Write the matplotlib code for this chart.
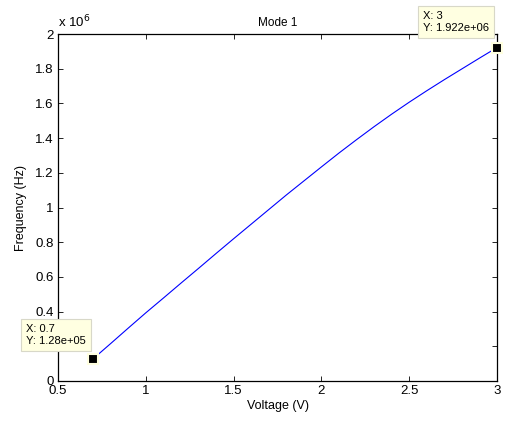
import numpy as np
import matplotlib.pyplot as plt
from matplotlib.ticker import FuncFormatter

plt.rcParams['font.family'] = ['Liberation Sans', 'DejaVu Sans']

# data (frequency in units of 1e6 Hz)
voltage = [0.7, 0.8, 0.9, 1.0, 1.1, 1.2, 1.3, 1.4, 1.5, 1.6, 1.7, 1.8,
           1.9, 2.0, 2.1, 2.2, 2.3, 2.4, 2.5, 2.6, 2.7, 2.8, 2.9, 3.0]
freq_e6 = [0.128, 0.216, 0.305, 0.393, 0.478, 0.564, 0.649, 0.735, 0.820,
           0.904, 0.988, 1.072, 1.153, 1.234, 1.314, 1.391, 1.466, 1.538,
           1.607, 1.673, 1.737, 1.799, 1.861, 1.922]
tip_x = [0.7, 3.0]
tip_y = [1.28e5, 1.922e6]
tip_labels = ["X: 0.7\nY: 1.28e+05", "X: 3\nY: 1.922e+06"]
xticks = [0.5, 1, 1.5, 2, 2.5, 3]
yticks = [0, 0.2, 0.4, 0.6, 0.8, 1.0, 1.2, 1.4, 1.6, 1.8, 2.0]

freq = np.array(freq_e6) * 1e6

fig = plt.figure(figsize=(5.05, 4.23), dpi=100)
ax = fig.add_axes([0.1149, 0.0993, 0.8693, 0.8203])

ax.plot(voltage, freq, color='#0000ff', lw=0.8)
ax.plot(tip_x, tip_y, ls='none', marker='s', ms=6.5, mfc='black',
        mec='#ffffe0', mew=1.5, clip_on=False, zorder=5)

ax.set_xlim(0.5, 3)
ax.set_ylim(0, 2e6)
ax.set_xticks(xticks)
ax.set_yticks([v * 1e6 for v in yticks])
ax.xaxis.set_major_formatter(FuncFormatter(lambda v, p: '%g' % v))
ax.yaxis.set_major_formatter(FuncFormatter(lambda v, p: '%g' % round(v / 1e6, 2)))
ax.tick_params(direction='in', length=3.5, width=0.6, top=True, right=True,
               labelsize=9.5, pad=3, colors='black')
for s in ax.spines.values():
    s.set_linewidth(0.9)

ax.text(0.0, 1.012, 'x 10$^{6}$', transform=ax.transAxes, fontsize=9.5,
        ha='left', va='bottom')
ax.set_title('Mode 1', fontsize=8.5, pad=6)
ax.set_xlabel('Voltage (V)', fontsize=9, labelpad=2)
ax.set_ylabel('Frequency (Hz)', fontsize=9, labelpad=6)

offsets = [(-67, 35), (-74, 37)]
for x, y, lab, off in zip(tip_x, tip_y, tip_labels, offsets):
    ax.annotate(lab, (x, y), xytext=off, textcoords='offset pixels',
                ha='left', va='top', fontsize=8, linespacing=1.3,
                bbox=dict(boxstyle='square,pad=0.45', fc='#ffffe1',
                          ec='#d8d8c8', lw=0.8),
                annotation_clip=False, zorder=6)

fig.savefig('out.png', dpi=100)
